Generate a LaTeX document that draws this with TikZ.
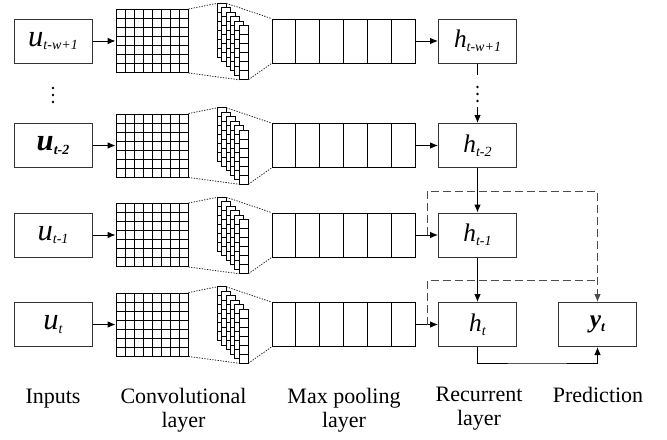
\documentclass[tikz,border=0pt]{standalone}
\usepackage{fontspec}
\setmainfont{Liberation Serif}
\usetikzlibrary{arrows.meta}
\newcommand{\mysub}[2]{\raisebox{-2.8pt}{\fontsize{#1}{#1}\selectfont\itshape #2}}
\newcommand{\ulab}[1]{{\fontsize{23}{24}\selectfont\itshape u}\mysub{10.5}{#1}}
\newcommand{\hlab}[1]{{\fontsize{19}{20}\selectfont\itshape h}\mysub{10.5}{#1}}
\begin{document}
\begin{tikzpicture}[x=0.75pt,y=-0.75pt,
  box/.style={draw=black!80, line width=0.75pt, minimum width=58.5pt, minimum height=33pt, inner sep=0pt},
  cellbox/.style={draw=black, line width=0.7pt, inner sep=0pt},
  cellline/.style={draw=black, line width=0.7pt},
  arr/.style={draw=black, line width=0.75pt, -{Latex[length=6pt,width=5pt]}},
  plain/.style={draw=black, line width=0.75pt},
  dotline/.style={draw=black!85, line width=0.6pt, dash pattern=on 1pt off 1pt},
  dashline/.style={draw=black!70, line width=0.75pt, dash pattern=on 6pt off 3pt},
  lbl/.style={font=\fontsize{16.5}{18}\selectfont, anchor=base, inner sep=0pt},
  dotmark/.style={circle, fill=black, inner sep=0pt, minimum size=2.2pt}]
\useasboundingbox (0,0) rectangle (667,439);

% input boxes
\node[box] (in1) at (53,41) {\ulab{t-w+1}};
\node[box] (in2) at (53,145.5) {\bfseries\ulab{t-2}};
\node[box] (in3) at (53,235) {\ulab{t-1}};
\node[box] (in4) at (53,324.5) {\ulab{t}};

% recurrent boxes
\node[box] (h1) at (477.5,41) {\hlab{t-w+1}};
\node[box] (h2) at (477.5,145.5) {\hlab{t-2}};
\node[box] (h3) at (477.5,235) {\hlab{t-1}};
\node[box] (h4) at (477.5,324.5) {\hlab{t}};

% prediction box
\node[box] (yt) at (597.5,324.5) {\bfseries{\fontsize{19}{20}\selectfont\itshape y}\mysub{10.5}{t}};

\foreach \r/\c in {1/41,2/145.5,3/235,4/324.5} {
  % convolution grid
  \node[cellbox, minimum width=54pt, minimum height=47.25pt] (g\r) at (152,\c) {};
  \foreach \i in {1,...,7} \draw[cellline] (116+9*\i,\c-31.5) -- ++(0,63);
  \foreach \j in {1,...,6} \draw[cellline] (116,\c-31.5+9*\j) -- ++(72,0);
  % feature map stack
  \foreach \k in {0,...,5} {
    \pgfmathsetmacro\sx{217.3+4.4*\k}
    \pgfmathsetmacro\sy{\c-37.7+4.5*\k}
    \draw[cellline, fill=white] (\sx,\sy) rectangle ++(9,54);
    \foreach \j in {1,...,5} \draw[cellline] (\sx,\sy+9*\j) -- ++(9,0);
  }
  \coordinate (sa\r) at (217.3,\c-37.7);
  \coordinate (sb\r) at (226.3,\c-37.7);
  \coordinate (sc\r) at (239.3,\c+38.8);
  \coordinate (sd\r) at (248.3,\c+38.8);
  % pooling box
  \node[cellbox, minimum width=107.25pt, minimum height=33pt] (p\r) at (343.5,\c) {};
  \foreach \i in {1,...,5} \draw[cellline] (272+23.833*\i,\c-22) -- ++(0,44);
  % dotted projections
  \draw[dotline] (g\r.north east) -- (sa\r);
  \draw[dotline] (g\r.south east) -- (sc\r);
  \draw[dotline] (sb\r) -- (p\r.north west);
  \draw[dotline] (sd\r) -- (p\r.south west);
  % arrows
  \draw[arr] (in\r) -- (g\r);
  \draw[arr] (p\r) -- (h\r);
}

% vertical dots in inputs column
\node[dotmark] (vd1) at (53,88) {};
\node[dotmark] (vd2) at (53,95) {};
\node[dotmark] (vd3) at (53,102) {};

% recurrent connections
\coordinate (r1) at (477.5,75);
\coordinate (r2) at (477.5,107);
\draw[plain] (h1.south) -- (r1);
\node[dotmark] (rd1) at (477.5,87) {};
\node[dotmark] (rd2) at (477.5,94) {};
\node[dotmark] (rd3) at (477.5,101) {};
\draw[arr] (r2) -- (h2.north);
\draw[arr] (h2.south) -- (h3.north);
\draw[arr] (h3.south) -- (h4.north);

% dashed skip connections
\coordinate (d3) at (427,235);
\coordinate (d3t) at (427,191);
\coordinate (d4) at (427,324.5);
\coordinate (d4t) at (427,280);
\coordinate (d4e) at (597.5,280);
\draw[dashline, -{Latex[length=6pt,width=5pt]}] (d3) -- (d3t) -| (yt.north);
\draw[dashline] (d4) -- (d4t) -- (d4e);

% h_t to prediction
\coordinate (bt) at (537,363);
\draw[arr] (h4.south) |- (bt) -| (yt.south);

% labels
\node[lbl] (L1) at (53,403) {Inputs};
\node[lbl] (L2a) at (183.5,403) {Convolutional};
\node[lbl] (L2b) at (183.5,427) {layer};
\node[lbl] (L3a) at (344,403) {Max pooling};
\node[lbl] (L3b) at (344,427) {layer};
\node[lbl] (L4a) at (479,401) {Recurrent};
\node[lbl] (L4b) at (479,425) {layer};
\node[lbl] (L5) at (598,402) {Prediction};
\end{tikzpicture}
\end{document}
